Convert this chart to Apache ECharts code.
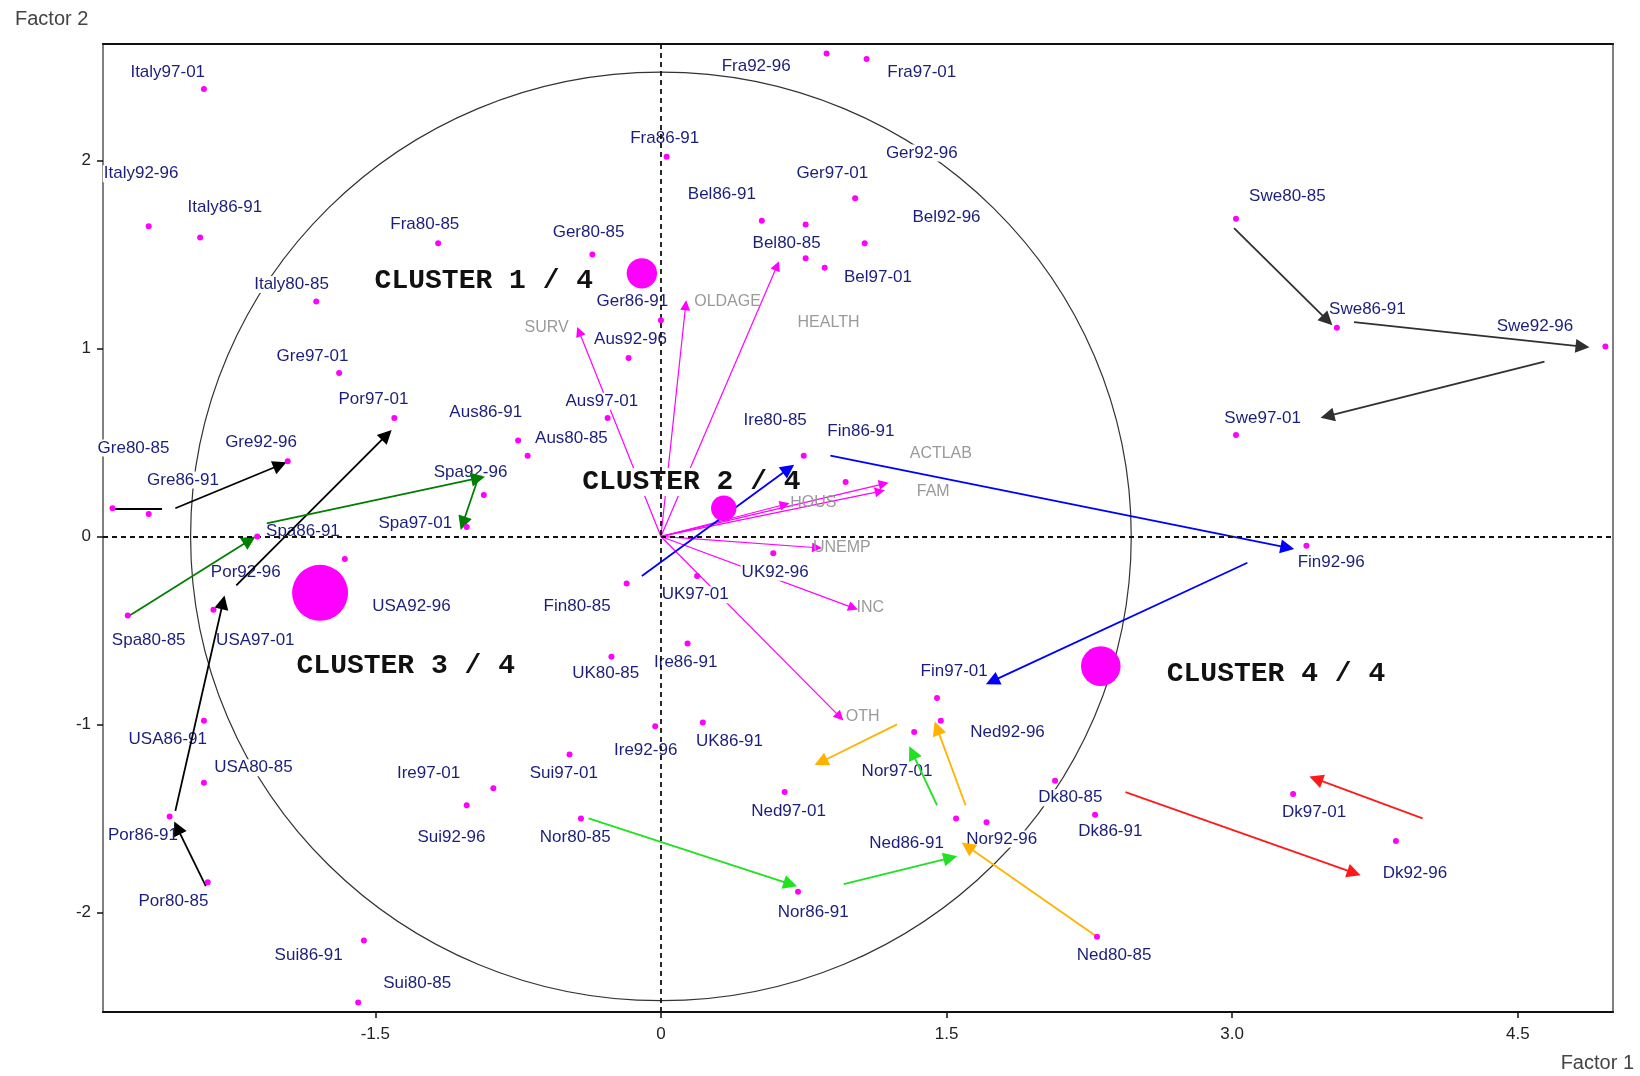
<!DOCTYPE html>
<html>
<head>
<meta charset="utf-8">
<script src="https://cdn.jsdelivr.net/npm/echarts@6/dist/echarts.min.js"></script>
<style>
  html, body { margin: 0; padding: 0; background: #fff; }
  #chart { width: 1640px; height: 1076px; }
</style>
</head>
<body>
<div id="chart"></div>
<script>
// ---- data (factor 1 / factor 2 scores) ----
const xTicks = [-1.5, 0, 1.5, 3.0, 4.5]
const yTicks = [-2, -1, 0, 1, 2]

const pointNames = ['Italy97-01','Italy92-96','Italy86-91','Italy80-85','Gre80-85','Gre86-91','Gre92-96','Gre97-01',
  'Por80-85','Por86-91','Por92-96','Por97-01','USA80-85','USA86-91','USA92-96','USA97-01',
  'Spa80-85','Spa86-91','Spa92-96','Spa97-01','Fra80-85','Fra86-91','Fra92-96','Fra97-01',
  'Ger80-85','Ger86-91','Ger92-96','Ger97-01','Bel80-85','Bel86-91','Bel92-96','Bel97-01',
  'Aus80-85','Aus86-91','Aus92-96','Aus97-01','Ire80-85','Ire86-91','Ire92-96','Ire97-01',
  'Fin80-85','Fin86-91','Fin92-96','Fin97-01','UK80-85','UK86-91','UK92-96','UK97-01',
  'Sui80-85','Sui86-91','Sui92-96','Sui97-01','Nor80-85','Nor86-91','Nor92-96','Nor97-01',
  'Ned80-85','Ned86-91','Ned92-96','Ned97-01','Dk80-85','Dk86-91','Dk92-96','Dk97-01',
  'Swe80-85','Swe86-91','Swe92-96','Swe97-01']
const pointX = [-2.40,-2.69,-2.42,-1.81, -2.88,-2.69,-1.96,-1.69,
  -2.38,-2.58,-2.35,-1.40, -2.40,-2.40,-1.71,-1.66,
  -2.80,-2.12,-0.93,-1.02, -1.17,0.03,0.87,1.08,
  -0.36,0.00,0.76,1.02, 0.76,0.53,1.07,0.86,
  -0.70,-0.75,-0.17,-0.28, 0.75,0.14,-0.03,-0.88,
  -0.18,0.97,3.39,1.45, -0.26,0.22,0.59,0.19,
  -1.59,-1.56,-1.02,-0.48, -0.42,0.72,1.71,1.33,
  2.29,1.55,1.47,0.65, 2.07,2.28,3.86,3.32,
  3.02,3.55,4.96,3.02]
const pointY = [2.38,1.65,1.59,1.25, 0.15,0.12,0.40,0.87,
  -1.84,-1.49,-0.39,0.63, -1.31,-0.98,-0.28,-0.12,
  -0.42,0.00,0.22,0.05, 1.56,2.02,2.57,2.54,
  1.50,1.15,1.66,1.80, 1.48,1.68,1.56,1.43,
  0.43,0.51,0.95,0.63, 0.43,-0.57,-1.01,-1.34,
  -0.25,0.29,-0.05,-0.86, -0.64,-0.99,-0.09,-0.21,
  -2.48,-2.15,-1.43,-1.16, -1.50,-1.89,-1.52,-1.04,
  -2.13,-1.50,-0.98,-1.36, -1.30,-1.48,-1.62,-1.37,
  1.69,1.11,1.01,0.54]
// where each name is written (same order as pointNames)
const labelX = [-2.59,-2.73,-2.29,-1.94, -2.77,-2.51,-2.10,-1.83,
  -2.56,-2.72,-2.18,-1.51, -2.14,-2.59,-1.31,-2.13,
  -2.69,-1.88,-1.00,-1.29, -1.24,0.02,0.50,1.37,
  -0.38,-0.15,1.37,0.90, 0.66,0.32,1.50,1.14,
  -0.47,-0.92,-0.16,-0.31, 0.60,0.13,-0.08,-1.22,
  -0.44,1.05,3.52,1.54, -0.29,0.36,0.60,0.18,
  -1.28,-1.85,-1.10,-0.51, -0.45,0.80,1.79,1.24,
  2.38,1.29,1.82,0.67, 2.15,2.36,3.96,3.43,
  3.29,3.71,4.59,3.16]
const labelY = [2.47,1.93,1.75,1.34, 0.47,0.30,0.50,0.96,
  -1.94,-1.59,-0.19,0.73, -1.23,-1.08,-0.37,-0.55,
  -0.55,0.03,0.34,0.07, 1.66,2.12,2.50,2.47,
  1.62,1.25,2.04,1.93, 1.56,1.82,1.70,1.38,
  0.52,0.66,1.05,0.72, 0.62,-0.67,-1.14,-1.26,
  -0.37,0.56,-0.14,-0.72, -0.73,-1.09,-0.19,-0.31,
  -2.38,-2.23,-1.60,-1.26, -1.60,-2.00,-1.61,-1.25,
  -2.23,-1.63,-1.04,-1.46, -1.39,-1.57,-1.79,-1.47,
  1.81,1.21,1.12,0.63]

// variable vectors (correlation circle)
const varNames = ['SURV','OLDAGE','HEALTH','ACTLAB','FAM','HOUS','UNEMP','INC','OTH']
const varX = [-0.43,0.13,0.61,1.17,1.15,0.65,0.82,1.01,0.94]
const varY = [1.09,1.23,1.44,0.28,0.24,0.17,-0.06,-0.38,-0.96]
const varLabelX = [-0.60,0.35,0.88,1.47,1.43,0.80,0.95,1.10,1.06]
const varLabelY = [1.11,1.25,1.14,0.44,0.24,0.18,-0.06,-0.38,-0.96]
const circleRadius = 2.47

// clusters
const clusterNames = ['CLUSTER 1 / 4','CLUSTER 2 / 4','CLUSTER 3 / 4','CLUSTER 4 / 4']
const clusterX = [-0.10,0.33,-1.79,2.31]
const clusterY = [1.40,0.15,-0.30,-0.69]
const clusterCount = [10,7,34,17]
const clusterLabelX = [-0.93,0.16,-1.34,3.23]
const clusterLabelY = [1.36,0.29,-0.69,-0.73]

// trajectories drawn as arrows
const arrowCountry = ['Gre','Gre','Por','Por','Por','Spa','Spa','Spa','Fin','Fin','Fin',
  'Nor','Nor','Nor','Ned','Ned','Ned','Dk','Dk','Swe','Swe','Swe']
const arrowHead = [0,1,1,1,1,1,1,1,1,1,1,1,1,1,1,1,1,1,1,1,1,1]
const arrowX0 = [-2.88,-2.55,-2.39,-2.55,-2.23,-2.79,-2.07,-0.96,-0.10,0.89,3.08,
  -0.38,0.96,1.45,2.29,1.60,1.24,2.44,4.00,3.01,3.64,4.64]
const arrowY0 = [0.15,0.15,-1.86,-1.46,-0.26,-0.42,0.07,0.31,-0.21,0.43,-0.14,
  -1.50,-1.85,-1.43,-2.13,-1.43,-1.00,-1.36,-1.50,1.64,1.14,0.93]
const arrowX1 = [-2.62,-2.00,-2.54,-2.30,-1.44,-2.16,-0.96,-1.04,0.67,3.29,1.74,
  0.68,1.52,1.32,1.61,1.45,0.84,3.64,3.44,3.50,4.84,3.50]
const arrowY1 = [0.15,0.38,-1.55,-0.35,0.54,-0.02,0.31,0.07,0.36,-0.06,-0.77,
  -1.85,-1.71,-1.15,-1.65,-1.02,-1.20,-1.79,-1.29,1.15,1.01,0.64]

// ---- styles ----
const FONT = 'Liberation Sans, Arial, sans-serif'
const PINK = '#ff00ff'
const NAVY = '#1c1f7a'
const countryColor = {
  Gre: '#000000', Por: '#000000', Spa: '#008000', Fin: '#0000ff',
  Nor: '#22e022', Ned: '#ffb300', Dk: '#ff1a1a', Swe: '#303030'
}

const chart = echarts.init(document.getElementById('chart'))

const labelStyle = (color, size, bg) => ({
  show: true,
  position: 'inside',
  formatter: '{b}',
  color: color,
  opacity: 1,
  fontSize: size,
  fontFamily: FONT,
  backgroundColor: bg,
  padding: [0, 1]
})

// one lines series per colour / head kind
const arrowSeries = []
const keys = []
arrowCountry.forEach((c, i) => {
  const k = c + '|' + arrowHead[i]
  if (keys.indexOf(k) < 0) keys.push(k)
})
keys.forEach(k => {
  const [c, h] = k.split('|')
  const data = []
  arrowCountry.forEach((cc, i) => {
    if (cc === c && String(arrowHead[i]) === h) {
      data.push({ coords: [[arrowX0[i], arrowY0[i]], [arrowX1[i], arrowY1[i]]] })
    }
  })
  arrowSeries.push({
    type: 'lines',
    coordinateSystem: 'cartesian2d',
    z: 4,
    silent: true,
    symbol: h === '1' ? ['none', 'triangle'] : ['none', 'none'],
    symbolSize: 14,
    lineStyle: { color: countryColor[c], width: 1.8, opacity: 1 },
    data: data
  })
})

const option = {
  animation: false,
  backgroundColor: '#fff',
  grid: { left: 103, right: 27, top: 44, bottom: 64, show: true, borderColor: '#111', borderWidth: 2 },
  xAxis: [{
    type: 'value', min: -2.93, max: 5.0, position: 'bottom',
    splitLine: { show: false },
    axisLine: { onZero: false, lineStyle: { color: '#111', width: 2 } },
    axisTick: { customValues: xTicks, length: 6, lineStyle: { color: '#111', width: 1.5 } },
    axisLabel: {
      customValues: xTicks, color: '#222', fontSize: 17, fontFamily: FONT, margin: 14,
      formatter: v => (v === 3 ? '3.0' : String(v))
    }
  }, {
    type: 'value', min: -2.93, max: 5.0, position: 'top',
    splitLine: { show: false }, axisTick: { show: false }, axisLabel: { show: false },
    axisLine: { onZero: false, lineStyle: { color: '#111', width: 2 } }
  }],
  yAxis: [{
    type: 'value', min: -2.53, max: 2.62, position: 'left',
    splitLine: { show: false },
    axisLine: { onZero: false, lineStyle: { color: '#808080', width: 2 } },
    axisTick: { customValues: yTicks, length: 6, lineStyle: { color: '#111', width: 1.5 } },
    axisLabel: { customValues: yTicks, color: '#222', fontSize: 17, fontFamily: FONT, margin: 12 }
  }, {
    type: 'value', min: -2.53, max: 2.62, position: 'right',
    splitLine: { show: false }, axisTick: { show: false }, axisLabel: { show: false },
    axisLine: { onZero: false, lineStyle: { color: '#808080', width: 2 } }
  }],
  graphic: [
    { type: 'text', left: 15, top: 9, style: { text: 'Factor 2', fill: '#444', font: '20px ' + FONT } },
    { type: 'text', right: 6, top: 1053, style: { text: 'Factor 1', fill: '#444', font: '20px ' + FONT } }
  ],
  series: [
    // correlation circle
    {
      type: 'custom',
      z: 1,
      silent: true,
      data: [[0, 0, circleRadius]],
      renderItem: (params, api) => {
        const c = api.coord([api.value(0), api.value(1)])
        const s = api.size([api.value(2), api.value(2)])
        return {
          type: 'ellipse',
          shape: { cx: c[0], cy: c[1], rx: s[0], ry: s[1] },
          style: { fill: 'none', stroke: '#333', lineWidth: 1.2 }
        }
      }
    },
    // dashed zero lines
    {
      type: 'scatter',
      z: 1,
      silent: true,
      data: [],
      markLine: {
        silent: true,
        symbol: ['none', 'none'],
        label: { show: false },
        lineStyle: { color: '#111', type: [5, 4], width: 1.8 },
        data: [{ xAxis: 0 }, { yAxis: 0 }]
      }
    },
    // variable vectors
    {
      type: 'lines',
      coordinateSystem: 'cartesian2d',
      z: 2,
      silent: true,
      symbol: ['none', 'triangle'],
      symbolSize: 10,
      lineStyle: { color: PINK, width: 1.2, opacity: 1 },
      data: varNames.map((n, i) => ({ coords: [[0, 0], [varX[i], varY[i]]] }))
    },
    // variable names
    {
      type: 'scatter',
      z: 3,
      silent: true,
      symbolSize: 1,
      itemStyle: { color: 'transparent', opacity: 1 },
      label: labelStyle('#9a9a9a', 16, 'transparent'),
      data: varNames.map((n, i) => ({ name: n, value: [varLabelX[i], varLabelY[i]] }))
    },
    // point names
    {
      type: 'scatter',
      z: 3,
      silent: true,
      symbolSize: 1,
      itemStyle: { color: 'transparent', opacity: 1 },
      label: labelStyle(NAVY, 17, '#fff'),
      data: pointNames.map((n, i) => ({ name: n, value: [labelX[i], labelY[i]] }))
    },
    // cluster names
    {
      type: 'scatter',
      z: 3,
      silent: true,
      symbolSize: 1,
      itemStyle: { color: 'transparent', opacity: 1 },
      label: {
        show: true, position: 'inside', formatter: '{b}', opacity: 1,
        color: '#111', fontSize: 28, fontWeight: 'bold',
        fontFamily: 'Liberation Mono, Courier New, monospace',
        backgroundColor: '#fff', padding: [0, 2]
      },
      data: clusterNames.map((n, i) => ({ name: n, value: [clusterLabelX[i], clusterLabelY[i]] }))
    },
    ...arrowSeries,
    // country-period points
    {
      type: 'scatter',
      z: 5,
      silent: true,
      symbol: 'circle',
      symbolSize: 6,
      itemStyle: { color: PINK, opacity: 1 },
      data: pointNames.map((n, i) => ({ name: n, value: [pointX[i], pointY[i]] }))
    },
    // cluster centres
    {
      type: 'scatter',
      z: 6,
      silent: true,
      symbol: 'circle',
      symbolSize: v => 9.6 * Math.sqrt(v[2]),
      itemStyle: { color: PINK, opacity: 1 },
      data: clusterNames.map((n, i) => ({ name: n, value: [clusterX[i], clusterY[i], clusterCount[i]] }))
    }
  ]
}

chart.setOption(option)
</script>
</body>
</html>
